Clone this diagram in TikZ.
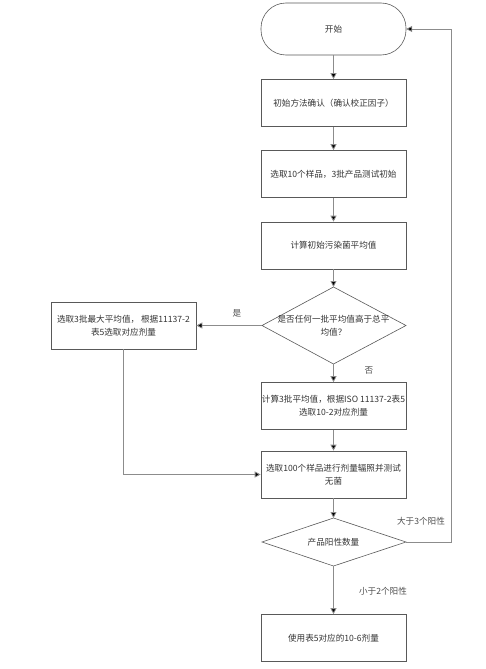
\documentclass[tikz,border=0pt]{standalone}
\usepackage{fontspec}
\newfontfamily\cjk{Noto Sans CJK SC}
\usetikzlibrary{shapes.geometric,arrows.meta}
\begin{document}
\begin{tikzpicture}[x=1pt,y=-1pt,
  every node/.style={font=\cjk\fontsize{8.6}{13}\selectfont, text=black!80},
  procbox/.style={draw=black!65, line width=0.6pt, minimum width=145pt, minimum height=47pt, align=center, inner sep=1pt},
  conn/.style={draw=black!45, line width=0.8pt, -{Triangle[length=6pt,width=6pt,fill=black]}},
  lbl/.style={text=black!70}]
\useasboundingbox (0,0) rectangle (485,669);
\draw[draw=black!65, line width=0.6pt, rounded corners=25pt] (261,3) rectangle (406,55);
\node (start) at (333.5,29) [minimum width=145pt, minimum height=52pt] {开始};
\node[procbox] (b1) at (333.5,103) {初始方法确认（确认校正因子）};
\node[procbox] (b2) at (333.5,174) {选取10个样品，3批产品测试初始};
\node[procbox] (b3) at (333.5,245.5) {计算初始污染菌平均值};
\draw[draw=black!65, line width=0.6pt] (262,325.5) -- (333.5,287) -- (406,325.5) -- (333.5,364) -- cycle;
\node (d1) at (333.5,325.5) [minimum width=144pt, minimum height=77pt, align=center, inner sep=0pt] {是否任何一批平均值高于总平\\均值？};
\node[procbox] (b4) at (333.5,406) {计算3批平均值，根据ISO 11137-2表5\\选取10-2对应剂量};
\node[procbox] (bl) at (123.5,325.5) {选取3批最大平均值， 根据11137-2\\表5选取对应剂量};
\node[procbox] (b5) at (333.5,474.5) {选取100个样品进行剂量辐照并测试\\无菌};
\draw[draw=black!65, line width=0.6pt] (262,542) -- (333.5,518) -- (406,542) -- (333.5,566) -- cycle;
\node (d2) at (333.5,542) [minimum width=144pt, minimum height=48pt] {产品阳性数量};
\node[procbox] (b6) at (333.5,638) {使用表5对应的10-6剂量};
\coordinate (rt) at (451,542);
\coordinate (rb) at (451,29);
\coordinate (lc) at (123.5,474.5);
\draw[conn] (start.south) -- (b1.north);
\draw[conn] (b1) -- (b2);
\draw[conn] (b2) -- (b3);
\draw[conn] (b3.south) -- (333.5,287);
\draw[conn] (262,325.5) -- (bl.east);
\draw[conn] (333.5,364) -- (b4.north);
\draw[conn] (b4) -- (b5);
\draw[conn] (b5.south) -- (333.5,518);
\draw[conn] (333.5,566) -- (b6.north);
\draw[conn] (406,542) -- (rt) -- (rb) -- (start.east);
\draw[conn] (bl.south) -- (lc) -- (b5.west);
\node[lbl] at (237,313) {是};
\node[lbl] at (369,370) {否};
\node[lbl] at (421,521) {大于3个阳性};
\node[lbl] at (383,591) {小于2个阳性};
\end{tikzpicture}
\end{document}
